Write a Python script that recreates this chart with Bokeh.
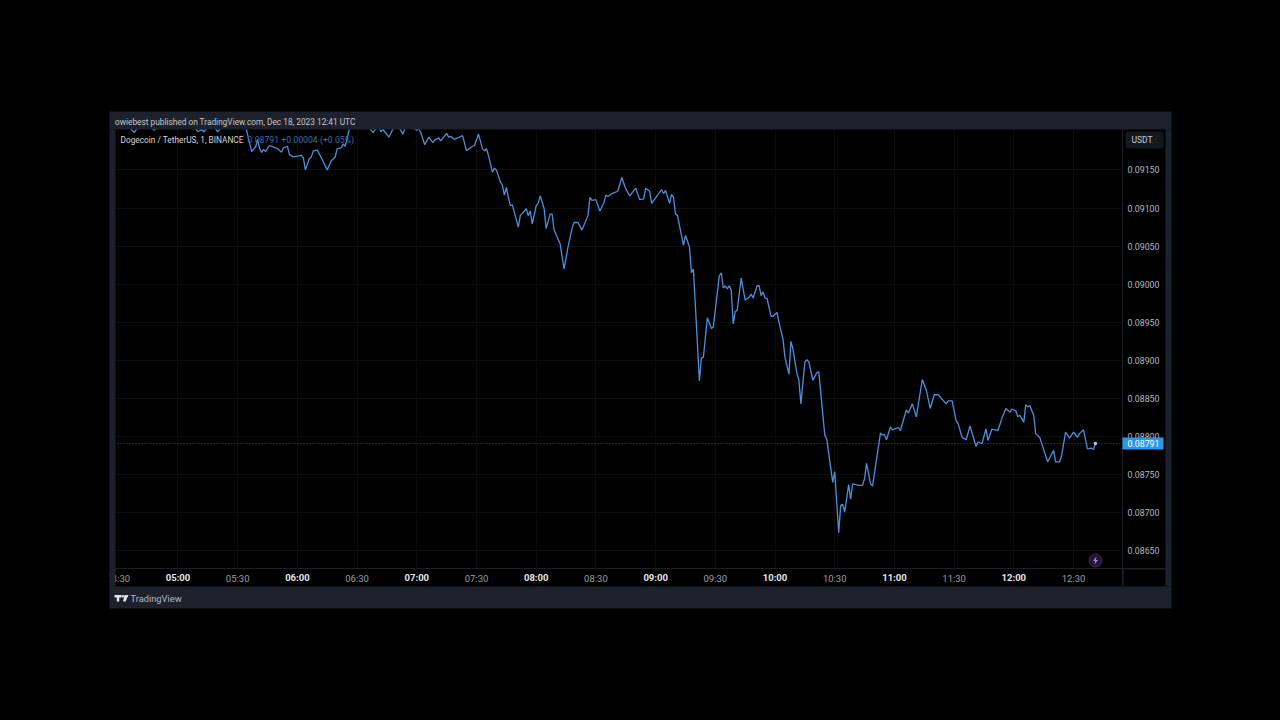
from bokeh.plotting import figure
from bokeh.core.properties import value
from bokeh.models import (Range1d, FixedTicker, NumeralTickFormatter, BoxAnnotation, Label, LabelSet,
                          ColumnDataSource, Span, PolyAnnotation)
from bokeh.embed import file_html
from bokeh.resources import INLINE

# minutes after 05:00 (1-minute chart, DOGE/USDT)
minutes = [-32,-25,-22,-20,-14,-12,-11,-9,8,10,12,13,15,18,20,22,29,34,37,39,40,41,42,43,44,46,48,50,52,53,55,56,58,60,62,63,64,66,67,68,70,72,75,77,79,80,82,83,84,86,87,92,96,98,100,101,102,103,106,107,108,110,111,113,114,117,119,120,121,122,124,126,128,129,131,132,135,136,137,139,143,145,147,148,149,151,153,154,155,156,158,159,160,162,163,164,165,166,167,168,171,172,175,176,177,178,180,181,182,184,185,187,188,189,192,194,196,198,199,201,203,206,207,208,210,212,214,215,216,218,221,223,225,227,230,232,234,235,237,238,243,244,245,247,248,249,250,251,254,255,257,258,259,262,263,264,266,268,269,272,273,274,275,276,277,278,279,280,281,283,285,287,288,289,291,292,293,294,295,296,298,299,301,302,304,305,307,308,309,311,312,313,315,316,317,319,321,322,325,326,329,330,332,333,334,335,337,338,339,342,344,345,346,348,349,353,354,355,356,358,359,362,363,366,367,369,371,374,376,378,380,382,386,387,389,391,392,394,396,398,401,402,404,406,407,409,412,414,416,418,419,421,422,423,425,426,427,428,430,431,433,437,440,441,443,444,446,448,450,452,453,455,457,459,460,461]
# close price, USDT
prices = [0.09208,0.09207,0.09199,0.09207,0.09206,0.09202,0.09204,0.09207,0.09207,0.09200,0.09203,0.09200,0.09207,0.09207,0.09200,0.09207,0.09212,0.09207,0.09174,0.09180,0.09190,0.09178,0.09173,0.09177,0.09174,0.09182,0.09180,0.09178,0.09173,0.09179,0.09181,0.09170,0.09167,0.09168,0.09169,0.09166,0.09150,0.09165,0.09167,0.09175,0.09176,0.09166,0.09150,0.09162,0.09167,0.09178,0.09179,0.09184,0.09181,0.09202,0.09212,0.09215,0.09206,0.09199,0.09206,0.09206,0.09200,0.09203,0.09193,0.09198,0.09204,0.09212,0.09206,0.09197,0.09204,0.09210,0.09204,0.09202,0.09204,0.09199,0.09183,0.09193,0.09186,0.09189,0.09192,0.09188,0.09198,0.09193,0.09194,0.09190,0.09195,0.09175,0.09179,0.09181,0.09182,0.09197,0.09178,0.09175,0.09178,0.09169,0.09147,0.09152,0.09150,0.09134,0.09130,0.09117,0.09127,0.09114,0.09103,0.09104,0.09075,0.09090,0.09099,0.09090,0.09096,0.09079,0.09103,0.09106,0.09116,0.09099,0.09073,0.09092,0.09092,0.09071,0.09053,0.09020,0.09049,0.09073,0.09081,0.09081,0.09071,0.09090,0.09114,0.09110,0.09111,0.09096,0.09107,0.09117,0.09115,0.09119,0.09122,0.09140,0.09125,0.09116,0.09126,0.09111,0.09112,0.09126,0.09122,0.09106,0.09124,0.09119,0.09123,0.09106,0.09118,0.09114,0.09092,0.09090,0.09051,0.09064,0.09049,0.09015,0.09020,0.08873,0.08903,0.08904,0.08956,0.08942,0.08944,0.09011,0.09015,0.08995,0.08998,0.08994,0.08998,0.08992,0.08948,0.08964,0.08966,0.09008,0.08979,0.08983,0.08987,0.08982,0.08998,0.08998,0.08985,0.08990,0.08982,0.08981,0.08958,0.08958,0.08963,0.08950,0.08928,0.08904,0.08882,0.08925,0.08915,0.08883,0.08874,0.08843,0.08898,0.08901,0.08898,0.08874,0.08884,0.08885,0.08802,0.08797,0.08740,0.08754,0.08674,0.08710,0.08711,0.08701,0.08737,0.08718,0.08738,0.08736,0.08736,0.08745,0.08765,0.08738,0.08735,0.08805,0.08802,0.08803,0.08796,0.08813,0.08809,0.08812,0.08808,0.08835,0.08831,0.08843,0.08826,0.08875,0.08861,0.08837,0.08855,0.08855,0.08843,0.08847,0.08847,0.08821,0.08817,0.08799,0.08796,0.08814,0.08787,0.08793,0.08791,0.08810,0.08795,0.08810,0.08808,0.08824,0.08837,0.08832,0.08836,0.08834,0.08826,0.08828,0.08819,0.08842,0.08839,0.08841,0.08828,0.08804,0.08799,0.08767,0.08782,0.08767,0.08767,0.08775,0.08806,0.08798,0.08806,0.08799,0.08804,0.08809,0.08784,0.08785,0.08783,0.08791]

half_hour_ticks = [-30, 30, 90, 150, 210, 270, 330, 390, 450]
half_hour_labels = ["04:30", "05:30", "06:30", "07:30", "08:30", "09:30", "10:30", "11:30", "12:30"]
hour_ticks = [0, 60, 120, 180, 240, 300, 360, 420]
hour_labels = ["05:00", "06:00", "07:00", "08:00", "09:00", "10:00", "11:00", "12:00"]
price_ticks = [0.0865, 0.0870, 0.0875, 0.0880, 0.0885, 0.0890, 0.0895, 0.0900, 0.0905, 0.0910, 0.0915]
last_price = 0.08791
last_minute = 461
# visible span of the chart area
first_visible_minute, last_visible_minute = -31.4, 474.6
lowest_visible_price, highest_visible_price = 0.08627, 0.09203

TITLE = "owiebest published on TradingView.com, Dec 18, 2023 12:41 UTC"
SYMBOL = "Dogecoin / TetherUS, 1, BINANCE"
VALUES = "0.08791 +0.00004 (+0.05%)"
FONT = "Roboto"
PANEL = "#1c212b"
BLACK = "#000000"
LINE = "#4c8fdc"
GRID = "#0b0d10"
EDGE = "#1c2026"

# The frame fills the page, so that the panel and texts round the chart can be drawn
L, R, T, B = 115, 1122, 129, 568
x_per_px = (last_visible_minute - first_visible_minute) / (R - L)
y_per_px = (highest_visible_price - lowest_visible_price) / (B - T)
x_range = Range1d(first_visible_minute - L * x_per_px, last_visible_minute + (1280 - R) * x_per_px)
y_range = Range1d(lowest_visible_price - (720 - B) * y_per_px, highest_visible_price + T * y_per_px)


def box(l, t, r, b, color, level="guide", **kw):
    a = BoxAnnotation(left=l, right=r, top=t, bottom=b,
                      left_units="canvas", right_units="canvas", top_units="canvas", bottom_units="canvas",
                      fill_color=color, fill_alpha=1, line_color=kw.pop("line_color", None), level=level, **kw)
    p.add_layout(a)


def label(x, y, text, color, size, align="left", style="normal", level="annotation"):
    p.add_layout(Label(x=x, y=y, x_units="canvas", y_units="canvas", text=text,
                       text_color=color, text_font_size=size, text_font=FONT, text_font_style=style,
                       text_align=align, text_baseline="middle", level=level))


def poly(xs, ys, color):
    p.add_layout(PolyAnnotation(xs=xs, ys=ys, xs_units="canvas", ys_units="canvas",
                                fill_color=color, fill_alpha=1, line_color=None, level="overlay"))


p = figure(width=1280, height=720, output_backend="svg", toolbar_location=None,
           x_range=x_range, y_range=y_range, y_axis_location="right", min_border=0,
           background_fill_color=BLACK, border_fill_color=BLACK, outline_line_color=None)

xa = p.xaxis[0]
xa.fixed_location = lowest_visible_price
xa.bounds = (first_visible_minute, last_visible_minute + 21)
xa.level = "annotation"
xa.ticker = FixedTicker(ticks=half_hour_ticks)
xa.major_label_overrides = dict(zip(half_hour_ticks, half_hour_labels))
xa.major_label_text_color = "#9a9ea6"
xa.major_label_text_font = FONT
xa.major_label_text_font_size = "9.5px"
xa.major_label_standoff = 4
xa.major_tick_line_color = None
xa.major_tick_out = 0
xa.minor_tick_line_color = None
xa.axis_line_color = EDGE

ya = p.yaxis[0]
ya.fixed_location = last_visible_minute
ya.bounds = (lowest_visible_price - 18 * y_per_px, highest_visible_price)
ya.level = "annotation"
ya.ticker = FixedTicker(ticks=price_ticks)
ya.formatter = NumeralTickFormatter(format="0.00000")
ya.major_label_text_color = "#b4b8c0"
ya.major_label_text_font = FONT
ya.major_label_text_font_size = "8.8px"
ya.major_label_standoff = 5
ya.major_tick_line_color = None
ya.major_tick_out = 0
ya.minor_tick_line_color = None
ya.axis_line_color = EDGE

p.xgrid.ticker = FixedTicker(ticks=sorted(half_hour_ticks + hour_ticks))
p.ygrid.ticker = FixedTicker(ticks=price_ticks)
p.xgrid.grid_line_color = GRID
p.ygrid.grid_line_color = GRID

# Price line
p.add_layout(Span(location=last_price, dimension="width", line_color="#33505e",
                  line_dash="1 2", line_width=1, level="underlay"))
p.line(minutes, prices, line_color=LINE, line_width=1.3)
p.scatter([last_minute], [last_price], size=3.5, fill_color="#a9cdf2", line_color=None)

# Black page round the panel, and the axis strips beside the chart
box(0, 0, 1280, 111, BLACK)
box(0, 608, 1280, 720, BLACK)
box(0, 111, 109, 608, BLACK)
box(1171, 111, 1280, 608, BLACK)
box(R + 1, T, 1165, 586, BLACK)
box(L, B + 1, R + 1, 586, BLACK)
# Panel frame round the chart
box(109, 111, 1171, 129, PANEL)
box(1165, 129, 1171, 586, PANEL)
box(109, 586, 1171, 608, PANEL)
box(109, 129, 115, 586, PANEL)
box(1122, 568, 1123, 586, EDGE)
box(1123, 568, 1165, 569, EDGE)

# Hour labels in bold, on the same row as the half-hour labels
hours = ColumnDataSource(dict(x=hour_ticks, y=[577] * len(hour_ticks), text=hour_labels))
p.add_layout(LabelSet(x="x", y="y", text="text", source=hours, y_units="canvas", text_align="center",
                      text_baseline="middle", text_color="#e4e6ea", text_font_size="9.5px",
                      text_font=value(FONT), text_font_style="bold", level="annotation"))

# Covers that clip the 04:30 label at the chart's left edge
box(100, 568, 109, 586, BLACK, level="overlay")
box(109, 568, 115, 586, PANEL, level="overlay")

# Last-price tag
box(1122, 437, 1163, 449, "#2a97ee", level="overlay")
label(1143, 443, "0.08791", "#ffffff", "8.8px", align="center", level="overlay")

# Currency button
box(1125, 131, 1163, 148, "#141820", border_radius=3)
label(1141.5, 139.5, "USDT", "#c8ccd4", "8.5px", align="center")

# Texts
label(114.5, 121, TITLE, "#c3c7ce", "8.3px")
label(120, 139, SYMBOL, "#d5d8de", "8.3px")
label(247, 139, VALUES, "#3b6ea6", "8.7px")
label(130, 597.5, "TradingView", "#b4b8c0", "9.3px")

# TradingView mark
poly([114, 121, 121, 118.7, 118.7, 116.3, 116.3, 114], [594.5, 594.5, 597, 597, 601, 601, 597, 597], "#e4e6ea")
poly([124, 128, 125, 122.6], [594.5, 594.5, 601, 601], "#e4e6ea")
box(121.3, 594.5, 123.5, 597, "#e4e6ea", level="overlay", border_radius=1)

# Lightning badge
box(1088.5, 553.5, 1101.5, 566.5, "#231538", level="annotation", border_radius=7, line_color="#8f68c4")
poly([1096, 1092.5, 1094.6, 1094, 1097.5, 1095.4], [556, 560.6, 560.6, 564, 559.4, 559.4], "#a57fdc")

html = file_html(p, INLINE)
html = html.replace("<head>", "<head><style>html,body{background:#000;overflow:hidden}</style>", 1)
open("out.html", "w").write(html)
